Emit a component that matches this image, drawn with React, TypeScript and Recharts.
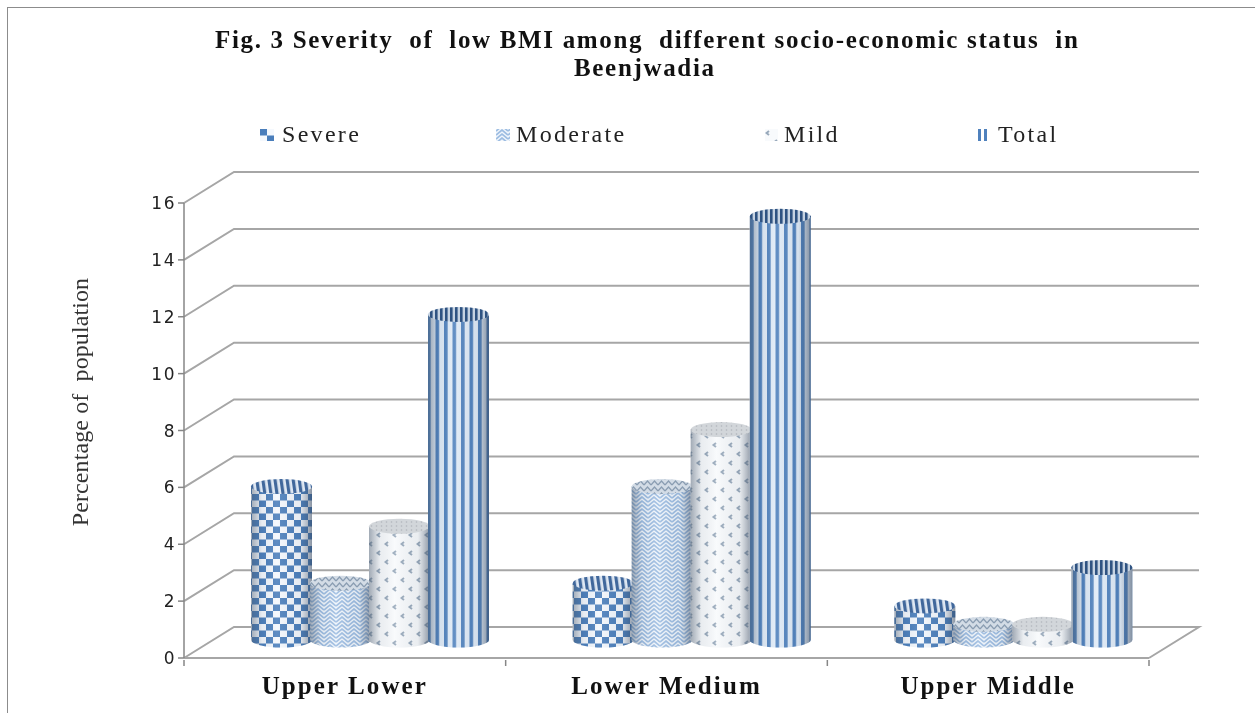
import React from 'react';
import { BarChart, Bar, XAxis, YAxis, CartesianGrid, Legend, Label } from 'recharts';

const categories = ['Upper Lower', 'Lower Medium', 'Upper Middle'];
const severe = [5.4, 2.0, 1.2];
const moderate = [2.0, 5.4, 0.55];
const mild = [4.0, 7.4, 0.55];
const total = [11.45, 14.9, 2.55];
const yTicks = [0, 2, 4, 6, 8, 10, 12, 14, 16];

const data = categories.map((name, i) => ({
  name,
  Severe: severe[i],
  Moderate: moderate[i],
  Mild: mild[i],
  Total: total[i],
}));

const SERIF = '"Liberation Serif", serif';
const DEPTH_X = 50;
const DEPTH_Y = -31;
const GRID = '#a6a6a6';
const CAP_RY = 7.5;

// depth offset of the bars, they stand in the middle of the floor
const barDx = DEPTH_X / 2;
const barDy = -18;

const Cylinder = (capFill: string) => (props: any) => {
  const { x, y, width, height, fill } = props;
  const left = x + barDx;
  const top = y + barDy;
  const bottom = top + height;
  const rx = width / 2 + 1;
  const cx = left + width / 2;
  const body = `M${cx - rx},${top} L${cx - rx},${bottom} A${rx},${CAP_RY} 0 0 0 ${cx + rx},${bottom} L${cx + rx},${top} Z`;
  return (
    <g>
      <path d={body} fill={fill} />
      <path d={body} fill="url(#cylShade)" />
      <ellipse cx={cx} cy={top} rx={rx} ry={CAP_RY} fill={capFill} />
    </g>
  );
};

const gridLine = (props: any) => {
  const { x1, x2, y1 } = props;
  const isFloor = y1 > 640;
  const points = isFloor
    ? `${x1},${y1} ${x1 + DEPTH_X},${y1 + DEPTH_Y} ${x2 + DEPTH_X},${y1 + DEPTH_Y} ${x2},${y1}`
    : `${x1},${y1} ${x1 + DEPTH_X},${y1 + DEPTH_Y} ${x2 + DEPTH_X},${y1 + DEPTH_Y}`;
  return <polyline key={`grid-${y1}`} points={points} fill="none" stroke={GRID} strokeWidth={2} />;
};

const CategoryTick = (props: any) => {
  const { x, y, payload, visibleTicksCount } = props;
  const band = 965 / visibleTicksCount;
  return (
    <g>
      <line x1={x + band / 2} x2={x + band / 2} y1={y} y2={y + 6} stroke="#868686" strokeWidth={1.5} />
      {payload.index === 0 && <line x1={x - band / 2} x2={x - band / 2} y1={y} y2={y + 6} stroke="#868686" strokeWidth={1.5} />}
      <text x={x} y={y + 34} textAnchor="middle" fontFamily={SERIF} fontWeight="bold" fontSize={25} letterSpacing={2.1} fill="#111">
        {payload.value}
      </text>
    </g>
  );
};

const legendSpots: Record<string, { icon: number; text: number; w: number; fill?: string }> = {
  Severe: { icon: 260, text: 282, w: 14 },
  Moderate: { icon: 496, text: 516, w: 14 },
  Mild: { icon: 765, text: 784, w: 13 },
  Total: { icon: 978, text: 998, w: 9, fill: 'url(#pTotalIcon)' },
};

const LegendRow = ({ payload }: any) => (
  <div style={{ position: 'relative', height: 30, width: 1255 }}>
    {(payload || []).map((item: any) => {
      const spot = legendSpots[item.value];
      return (
        <React.Fragment key={item.value}>
          <svg width={spot.w} height={12} style={{ position: 'absolute', left: spot.icon, top: 9 }}>
            <rect width={spot.w} height={12} fill={spot.fill || item.color} />
          </svg>
          <span
            style={{
              position: 'absolute',
              left: spot.text,
              top: 0,
              fontFamily: SERIF,
              fontSize: 24,
              letterSpacing: 2.3,
              color: '#222',
              lineHeight: '28px',
            }}
          >
            {item.value}
          </span>
        </React.Fragment>
      );
    })}
  </div>
);

const App: React.FC = () => {
  const titleStyle: React.CSSProperties = {
    position: 'absolute',
    fontFamily: SERIF,
    fontWeight: 'bold',
    fontSize: 25,
    letterSpacing: 1.67,
    lineHeight: '28px',
    color: '#111',
    whiteSpace: 'pre',
  };
  return (
    <div
      style={{
        position: 'absolute',
        left: 0,
        top: 0,
        width: 1255,
        height: 713,
        overflow: 'hidden',
        background: '#fff',
        filter: 'blur(0.5px)',
      }}
    >
      <div style={{ position: 'absolute', left: 7, top: 7, width: 1300, height: 720, border: '1.5px solid #8c8c8c' }} />
      <div style={{ ...titleStyle, left: 215, top: 26 }}>
        {'Fig. 3 Severity  of  low BMI among  different socio-economic status  in'}
      </div>
      <div style={{ ...titleStyle, left: 574, top: 54 }}>Beenjwadia</div>
      <BarChart
        width={1255}
        height={713}
        data={data}
        margin={{ top: 203, right: 106, left: 0, bottom: 0 }}
        barCategoryGap={43}
        barGap={0}
        style={{ position: 'absolute', left: 0, top: 0 }}
      >
        <defs>
          <pattern id="pSevere" width={14} height={13} patternUnits="userSpaceOnUse">
            <rect width={14} height={13} fill="#f4f8fd" />
            <rect width={7} height={6.5} fill="#4a7ebb" />
            <rect x={7} y={6.5} width={7} height={6.5} fill="#4a7ebb" />
          </pattern>
          <pattern id="pSevereTop" width={6} height={6} patternUnits="userSpaceOnUse" patternTransform="rotate(-8)">
            <rect width={6} height={6} fill="#dfe8f3" />
            <rect width={3.2} height={6} fill="#41689c" />
          </pattern>
          <pattern id="pModerate" width={12} height={8} patternUnits="userSpaceOnUse">
            <rect width={12} height={8} fill="#f1f6fc" />
            <path d="M0,6 L6,1 L12,6 M0,10 L6,5 L12,10 M0,2 L6,-3 L12,2" fill="none" stroke="#9dbde2" strokeWidth={1.7} />
          </pattern>
          <pattern id="pModerateTop" width={7} height={6} patternUnits="userSpaceOnUse">
            <rect width={7} height={6} fill="#d3dce6" />
            <path d="M0,5 L3.5,1 L7,5" fill="none" stroke="#8a9db2" strokeWidth={1.2} />
          </pattern>
          <pattern id="pMild" width={16} height={18} patternUnits="userSpaceOnUse">
            <rect width={16} height={18} fill="#f8fafc" />
            <path d="M4,2 L1.5,4 L4,6" fill="none" stroke="#98a9bb" strokeWidth={2} />
            <path d="M12,11 L9.5,13 L12,15" fill="none" stroke="#98a9bb" strokeWidth={2} />
          </pattern>
          <pattern id="pMildTop" width={5} height={4} patternUnits="userSpaceOnUse">
            <rect width={5} height={4} fill="#d2d6da" />
            <circle cx={1.5} cy={2} r={0.8} fill="#b0b5bb" />
          </pattern>
          <pattern id="pTotal" width={8.5} height={8} patternUnits="userSpaceOnUse" patternTransform="translate(2,0)">
            <rect width={8.5} height={8} fill="#e0ebf7" />
            <rect width={3.6} height={8} fill="#4f81bd" />
          </pattern>
          <pattern id="pTotalTop" width={5} height={6} patternUnits="userSpaceOnUse">
            <rect width={5} height={6} fill="#c6d3e2" />
            <rect width={2.6} height={6} fill="#2f5382" />
          </pattern>
          <pattern id="pTotalIcon" width={6} height={8} patternUnits="userSpaceOnUse">
            <rect width={6} height={8} fill="#ffffff" />
            <rect width={3} height={8} fill="#4f81bd" />
          </pattern>
          <linearGradient id="cylShade" x1="0" y1="0" x2="1" y2="0">
            <stop offset="0" stopColor="#4a5a6e" stopOpacity={0.5} />
            <stop offset="0.18" stopColor="#4a5a6e" stopOpacity={0.08} />
            <stop offset="0.42" stopColor="#ffffff" stopOpacity={0.12} />
            <stop offset="0.8" stopColor="#4a5a6e" stopOpacity={0.08} />
            <stop offset="1" stopColor="#33435a" stopOpacity={0.55} />
          </linearGradient>
        </defs>
        <CartesianGrid vertical={false} horizontal={gridLine} />
        <XAxis
          dataKey="name"
          height={55}
          interval={0}
          axisLine={{ stroke: GRID, strokeWidth: 2 }}
          tickLine={false}
          tickSize={0}
          tick={<CategoryTick />}
        />
        <YAxis
          width={184}
          domain={[0, 16]}
          ticks={yTicks}
          interval={0}
          axisLine={{ stroke: '#868686', strokeWidth: 1.5 }}
          tickLine={{ stroke: '#868686', strokeWidth: 1.5 }}
          tickSize={6}
          tickMargin={2}
          tick={{ fontFamily: '"DejaVu Sans", sans-serif', fontSize: 17, fill: '#222', letterSpacing: 1.5 }}
        >
          <Label
            content={() => (
              <text
                transform="translate(88,402) rotate(-90)"
                textAnchor="middle"
                fontFamily={SERIF}
                fontSize={24}
                letterSpacing={0.1}
                fill="#333"
                style={{ whiteSpace: 'pre' }}
              >
                {'Percentage of  population'}
              </text>
            )}
          />
        </YAxis>
        <Legend
          layout="horizontal"
          verticalAlign="middle"
          align="center"
          content={<LegendRow />}
          wrapperStyle={{ position: 'absolute', left: 0, top: 120, width: 1255 }}
        />
        <Bar dataKey="Severe" fill="url(#pSevere)" shape={Cylinder('url(#pSevereTop)')} isAnimationActive={false} />
        <Bar dataKey="Moderate" fill="url(#pModerate)" shape={Cylinder('url(#pModerateTop)')} isAnimationActive={false} />
        <Bar dataKey="Mild" fill="url(#pMild)" shape={Cylinder('url(#pMildTop)')} isAnimationActive={false} />
        <Bar dataKey="Total" fill="url(#pTotal)" shape={Cylinder('url(#pTotalTop)')} isAnimationActive={false} />
      </BarChart>
    </div>
  );
};

export default App;
